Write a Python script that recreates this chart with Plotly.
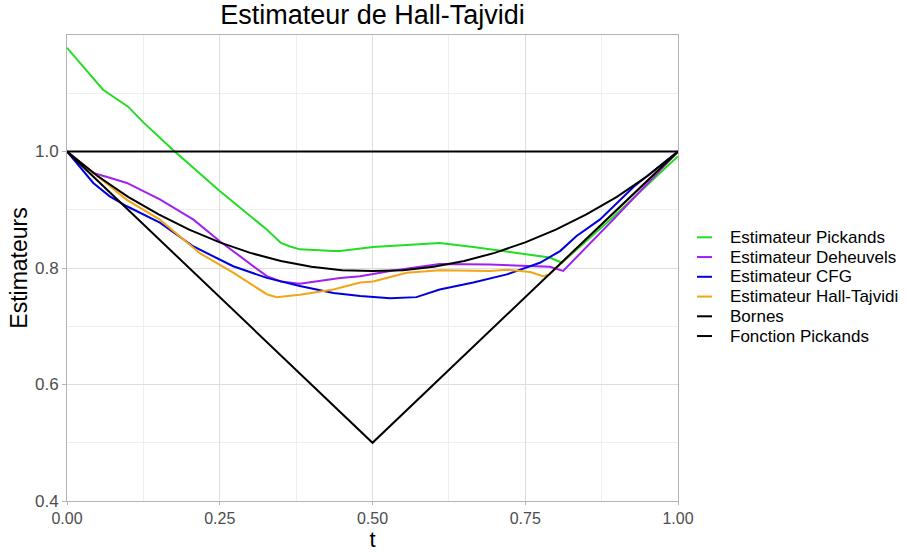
import plotly.graph_objects as go

# ---- data ----
t_pick = [0, 0.059, 0.100, 0.125, 0.174, 0.25, 0.327, 0.350, 0.365, 0.381, 0.436, 0.447,
          0.501, 0.556, 0.610, 0.665, 0.720, 0.774, 0.790, 0.810, 0.889, 1.0]
y_pick = [1.178, 1.106, 1.077, 1.050, 1.002, 0.932, 0.866, 0.843, 0.837, 0.832, 0.829, 0.829,
          0.836, 0.839, 0.843, 0.836, 0.828, 0.820, 0.818, 0.809, 0.883, 0.992]

t_deh = [0, 0.043, 0.070, 0.098, 0.152, 0.207, 0.25, 0.30, 0.327, 0.350, 0.381, 0.447,
         0.48, 0.529, 0.610, 0.692, 0.774, 0.790, 0.812, 0.894, 1.0]
y_deh = [1.0, 0.963, 0.955, 0.946, 0.918, 0.883, 0.846, 0.808, 0.786, 0.777, 0.773, 0.783,
         0.786, 0.795, 0.807, 0.806, 0.803, 0.802, 0.795, 0.883, 1.0]

t_cfg = [0, 0.043, 0.070, 0.098, 0.152, 0.207, 0.272, 0.327, 0.381, 0.436, 0.48, 0.529,
         0.572, 0.610, 0.665, 0.720, 0.774, 0.807, 0.834, 0.872, 0.928, 1.0]
y_cfg = [1.0, 0.946, 0.923, 0.906, 0.878, 0.837, 0.803, 0.783, 0.769, 0.757, 0.752, 0.748,
         0.750, 0.763, 0.775, 0.789, 0.809, 0.829, 0.855, 0.883, 0.940, 1.0]

t_ht = [0, 0.070, 0.098, 0.152, 0.196, 0.218, 0.272, 0.327, 0.343, 0.381, 0.436, 0.48,
        0.501, 0.556, 0.610, 0.692, 0.720, 0.758, 0.779, 0.790, 0.850, 1.0]
y_ht = [1.0, 0.940, 0.917, 0.883, 0.845, 0.825, 0.792, 0.755, 0.750, 0.754, 0.763, 0.775,
        0.777, 0.792, 0.796, 0.795, 0.797, 0.793, 0.786, 0.789, 0.850, 1.0]

t_bornes = [0, 1, None, 0, 0.5, 1]
y_bornes = [1, 1, None, 1, 0.5, 1]

t_fp = [0, 0.05, 0.1, 0.15, 0.2, 0.25, 0.3, 0.35, 0.4, 0.45, 0.5, 0.55, 0.6, 0.65, 0.7,
        0.75, 0.8, 0.85, 0.9, 0.95, 1.0]
y_fp = [1.0, 0.958, 0.922, 0.892, 0.866, 0.844, 0.826, 0.812, 0.802, 0.796, 0.795, 0.796,
        0.802, 0.812, 0.826, 0.844, 0.866, 0.892, 0.922, 0.958, 1.0]

x_ticks = [0, 0.25, 0.5, 0.75, 1.0]
x_ticklabels = ["0.00", "0.25", "0.50", "0.75", "1.00"]
y_ticks = [0.4, 0.6, 0.8, 1.0]
y_ticklabels = ["0.4", "0.6", "0.8", "1.0"]

series_names = ["Estimateur Pickands", "Estimateur Deheuvels", "Estimateur CFG",
                "Estimateur Hall-Tajvidi", "Bornes", "Fonction Pickands"]
series_colors = ["#22DD22", "#A020F0", "#0000DD", "#F2A516", "#000000", "#000000"]
series_x = [t_pick, t_deh, t_cfg, t_ht, t_bornes, t_fp]
series_y = [y_pick, y_deh, y_cfg, y_ht, y_bornes, y_fp]

FONT = "Liberation Sans, Arial, sans-serif"
W, H = 907, 552
ML, MR, MT, MB = 67, 229, 35, 51
PW, PH = W - ML - MR, H - MT - MB

fig = go.Figure()
for name, xs, ys, col in zip(series_names, series_x, series_y, series_colors):
    fig.add_trace(go.Scatter(x=xs, y=ys, mode="lines", name=name, showlegend=False,
                             line=dict(color=col, width=2), connectgaps=False))

# legend drawn as key lines + text (ggplot-like compact spacing)
leg_y0, leg_dy = 237.3, 19.75
key_x0, key_x1, txt_x = 697, 712, 728
shapes, annotations = [], []
for i, (name, col) in enumerate(zip(series_names, series_colors)):
    py = leg_y0 + i * leg_dy
    yp = (H - MB - py) / PH
    shapes.append(dict(type="line", xref="paper", yref="paper",
                       x0=(key_x0 - ML) / PW, x1=(key_x1 - ML) / PW, y0=yp, y1=yp,
                       line=dict(color=col, width=2)))
    annotations.append(dict(text=name, xref="paper", yref="paper",
                            x=(txt_x - ML) / PW, y=yp, xanchor="left", yanchor="middle",
                            showarrow=False, font=dict(size=17, color="#000000")))

fig.update_layout(
    width=W, height=H,
    margin=dict(l=ML, r=MR, t=MT, b=MB),
    paper_bgcolor="white", plot_bgcolor="white",
    font=dict(family=FONT, color="#000000"),
    title=dict(text="Estimateur de Hall-Tajvidi", x=(ML + ML + PW) / 2 / W, xanchor="center",
               y=1 - 15 / H, yanchor="middle", font=dict(size=27, color="#000000")),
    showlegend=False,
    shapes=shapes, annotations=annotations,
)
fig.update_xaxes(
    range=[0, 1], tickvals=x_ticks, ticktext=x_ticklabels, automargin=False,
    title=dict(text="t", font=dict(size=22, color="#000000"), standoff=1),
    tickfont=dict(size=16, color="#4D4D4D"),
    showgrid=True, gridcolor="#DEDEDE", gridwidth=1,
    minor=dict(tickvals=[0.125, 0.375, 0.625, 0.875], showgrid=True, gridcolor="#EEEEEE", gridwidth=1),
    showline=True, linecolor="#B3B3B3", linewidth=1, mirror=True,
    ticks="outside", ticklen=3, tickcolor="#B3B3B3", zeroline=False,
)
fig.update_yaxes(
    range=[0.4, 1.2], tickvals=y_ticks, ticktext=y_ticklabels, automargin=False,
    title=dict(text="Estimateurs", font=dict(size=23, color="#000000"), standoff=0),
    tickfont=dict(size=17, color="#4D4D4D"),
    showgrid=True, gridcolor="#DEDEDE", gridwidth=1,
    minor=dict(tickvals=[0.5, 0.7, 0.9, 1.1], showgrid=True, gridcolor="#EEEEEE", gridwidth=1),
    showline=True, linecolor="#B3B3B3", linewidth=1, mirror=True,
    ticks="outside", ticklen=4, tickcolor="#B3B3B3", zeroline=False,
)

fig.write_html("out.html")
